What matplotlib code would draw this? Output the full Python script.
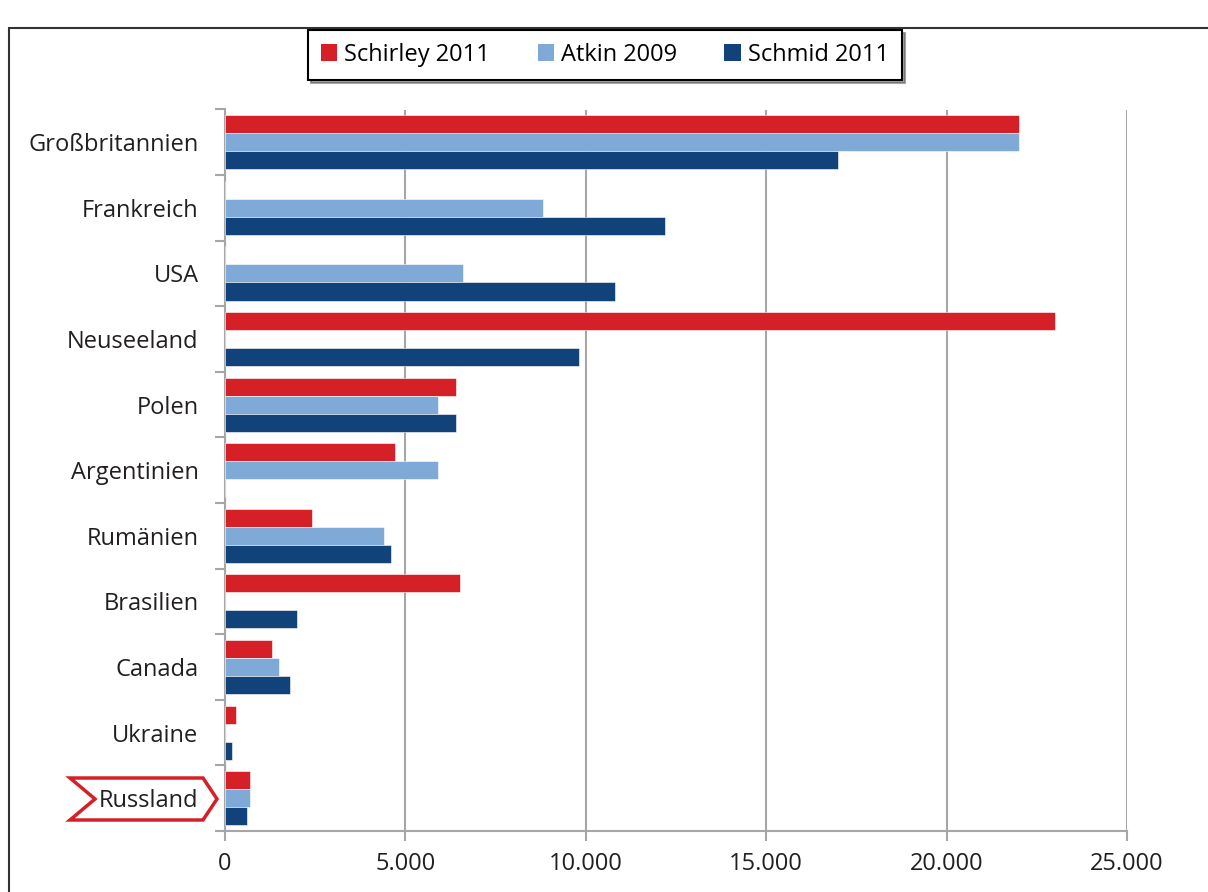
import matplotlib
matplotlib.use("Agg")
import matplotlib.pyplot as plt
import numpy as np
from matplotlib.patches import Patch, Polygon, Rectangle
from matplotlib.ticker import FuncFormatter, MultipleLocator

plt.rcParams["font.family"] = ["Open Sans", "DejaVu Sans"]

FONT_SIZE = 17

countries = [
    "Großbritannien", "Frankreich", "USA", "Neuseeland", "Polen", "Argentinien",
    "Rumänien", "Brasilien", "Canada", "Ukraine", "Russland",
]
series_names = ["Schirley 2011", "Atkin 2009", "Schmid 2011"]
schirley_2011 = [22000, 0, 0, 23000, 6400, 4700, 2400, 6500, 1300, 300, 700]
atkin_2009 = [22000, 8800, 6600, 0, 5900, 5900, 4400, 0, 1500, 0, 700]
schmid_2011 = [17000, 12200, 10800, 9800, 6400, 0, 4600, 2000, 1800, 200, 600]
series_colors = ["#d52027", "#7faad8", "#12427a"]

W, H = 1208, 892
fig = plt.figure(figsize=(W / 100, H / 100), dpi=100)
ax = fig.add_axes([225 / W, 1 - 831 / H, (1127 - 225) / W, (831 - 109.5) / H])

y = np.arange(len(countries))
bar_h = 0.275
for k, (vals, color) in enumerate(zip([schirley_2011, atkin_2009, schmid_2011], series_colors)):
    ax.barh(y + (k - 1) * bar_h, vals, height=bar_h, color=color,
            edgecolor="white", linewidth=0.4, zorder=3)

ax.set_xlim(0, 25000)
ax.set_ylim(len(countries) - 0.5, -0.5)
ax.xaxis.set_major_locator(MultipleLocator(5000))
ax.xaxis.set_major_formatter(FuncFormatter(lambda v, p: f"{int(v):,}".replace(",", ".")))
ax.set_yticks(y)
ax.set_yticklabels(countries)
ax.set_yticks(np.arange(len(countries) + 1) - 0.5, minor=True)

grey = "#a6a6a6"
ax.grid(True, axis="x", color=grey, linewidth=1.5, zorder=0)
for side in ["top", "right"]:
    ax.spines[side].set_visible(False)
for side in ["left", "bottom"]:
    ax.spines[side].set_color(grey)
    ax.spines[side].set_linewidth(1.5)
ax.tick_params(axis="y", which="major", length=0, pad=19, labelsize=FONT_SIZE, labelcolor="#231f20")
ax.tick_params(axis="y", which="minor", length=7, width=1.5, color=grey)
ax.tick_params(axis="x", which="major", length=7, width=1.5, color=grey, pad=8,
               labelsize=FONT_SIZE, labelcolor="#231f20")

handles = [Patch(facecolor=c, edgecolor="none") for c in series_colors]
leg = fig.legend(handles, series_names, loc="center", bbox_to_anchor=(605 / W, 1 - 55 / H),
                 ncol=3, fontsize=FONT_SIZE, frameon=True, fancybox=False, shadow=True,
                 handlelength=0.7, handleheight=0.7, handletextpad=0.3, columnspacing=2.0,
                 borderpad=0.55, borderaxespad=0)
leg.get_frame().set_edgecolor("black")
leg.get_frame().set_linewidth(1.5)

# outer frame (cropped)
fig.add_artist(Rectangle((9 / W, -0.2), 1.5, 1.2 - 28 / H, transform=fig.transFigure,
                         fill=False, edgecolor="#333333", linewidth=1.5))

# highlight around "Russland"
pts = [(70, 778), (95, 799), (70, 820), (203, 820), (217, 799), (203, 778)]
fig.add_artist(Polygon([(px / W, 1 - py / H) for px, py in pts], closed=True,
                       transform=fig.transFigure, fill=False, edgecolor="#d52027",
                       linewidth=2.5, joinstyle="miter"))

fig.savefig("out.png", dpi=100)
